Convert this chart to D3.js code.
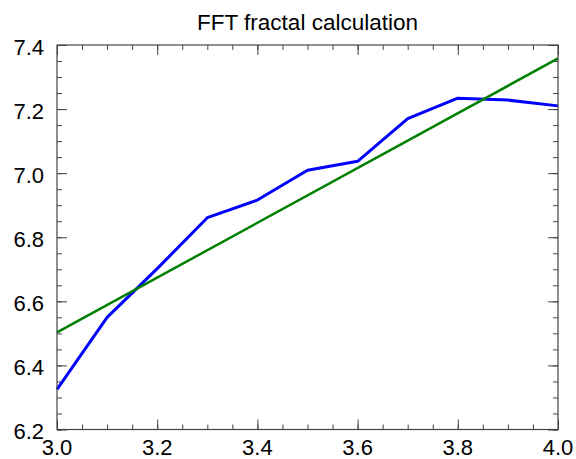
<!DOCTYPE html>
<html>
<head>
<meta charset="utf-8">
<script src="https://cdn.jsdelivr.net/npm/d3@7"></script>
<style>
body { margin: 0; background: #fff; }
svg { display: block; font-family: "Liberation Sans", Arial, Helvetica, sans-serif; }
</style>
</head>
<body>
<svg id="chart"></svg>
<script>
// data
var xs = [3.0, 3.1, 3.2, 3.3, 3.4, 3.5, 3.6, 3.7, 3.8, 3.9, 4.0];
var fftVals = [6.325, 6.550, 6.702, 6.861, 6.916, 7.009, 7.037, 7.170, 7.234, 7.228, 7.210];
var fitX = [3.0, 4.0];
var fitVals = [6.503, 7.358];
var xTicks = [3.0, 3.2, 3.4, 3.6, 3.8, 4.0];
var yTicks = [6.2, 6.4, 6.6, 6.8, 7.0, 7.2, 7.4];

var width = 576,
    height = 459,
    margin = {left: 57, right: 18, top: 45, bottom: 29.5};

var svg = d3.select("#chart")
    .attr("width", width)
    .attr("height", height);

var x = d3.scaleLinear().domain([3.0, 4.0]).range([margin.left, width - margin.right]);
var y = d3.scaleLinear().domain([6.2, 7.4]).range([height - margin.bottom, margin.top]);

var minorX = d3.range(0, 21).map(function(i) { return 3.0 + i * 0.05; });
var minorY = d3.range(0, 25).map(function(i) { return 6.2 + i * 0.05; });
var axisColor = "#444";

function tickAxis(axis, ticks, size, transform) {
    var g = svg.append("g")
        .attr("transform", transform)
        .call(axis.tickValues(ticks).tickSize(size).tickFormat(""));
    g.select(".domain").remove();
    g.selectAll("line").attr("stroke", axisColor).attr("stroke-width", 1);
    return g;
}

// ticks on all four sides, pointing inwards
var bottomY = height - margin.bottom, rightX = width - margin.right;
tickAxis(d3.axisTop(x), minorX, 5, "translate(0," + bottomY + ")");
tickAxis(d3.axisTop(x), xTicks, 10, "translate(0," + bottomY + ")");
tickAxis(d3.axisBottom(x), minorX, 5, "translate(0," + margin.top + ")");
tickAxis(d3.axisBottom(x), xTicks, 10, "translate(0," + margin.top + ")");
tickAxis(d3.axisRight(y), minorY, 5, "translate(" + margin.left + ",0)");
tickAxis(d3.axisRight(y), yTicks, 10, "translate(" + margin.left + ",0)");
tickAxis(d3.axisLeft(y), minorY, 5, "translate(" + rightX + ",0)");
tickAxis(d3.axisLeft(y), yTicks, 10, "translate(" + rightX + ",0)");

var line = d3.line()
    .x(function(d) { return x(d[0]); })
    .y(function(d) { return y(d[1]); });

svg.append("path")
    .datum(xs.map(function(v, i) { return [v, fftVals[i]]; }))
    .attr("d", line)
    .attr("fill", "none")
    .attr("stroke", "#0000ff")
    .attr("stroke-width", 3)
    .attr("stroke-linejoin", "round");

svg.append("path")
    .datum(fitX.map(function(v, i) { return [v, fitVals[i]]; }))
    .attr("d", line)
    .attr("fill", "none")
    .attr("stroke", "#008000")
    .attr("stroke-width", 2.5);

// frame
svg.append("rect")
    .attr("x", margin.left)
    .attr("y", margin.top)
    .attr("width", rightX - margin.left)
    .attr("height", bottomY - margin.top)
    .attr("fill", "none")
    .attr("stroke", axisColor)
    .attr("stroke-width", 1.2);

// tick labels
svg.selectAll(".xlab")
    .data(xTicks)
  .enter().append("text")
    .attr("class", "xlab")
    .attr("x", function(d) { return x(d); })
    .attr("y", bottomY + 25)
    .attr("text-anchor", "middle")
    .style("font-size", "22px")
    .text(function(d) { return d.toFixed(1); });

svg.selectAll(".ylab")
    .data(yTicks)
  .enter().append("text")
    .attr("class", "ylab")
    .attr("x", 44)
    .attr("y", function(d) { return y(d) + 9.5; })
    .attr("text-anchor", "end")
    .style("font-size", "22px")
    .text(function(d) { return d.toFixed(1); });

svg.append("text")
    .attr("x", (margin.left + rightX) / 2)
    .attr("y", 29.5)
    .attr("text-anchor", "middle")
    .style("font-size", "22.5px")
    .text("FFT fractal calculation");
</script>
</body>
</html>
